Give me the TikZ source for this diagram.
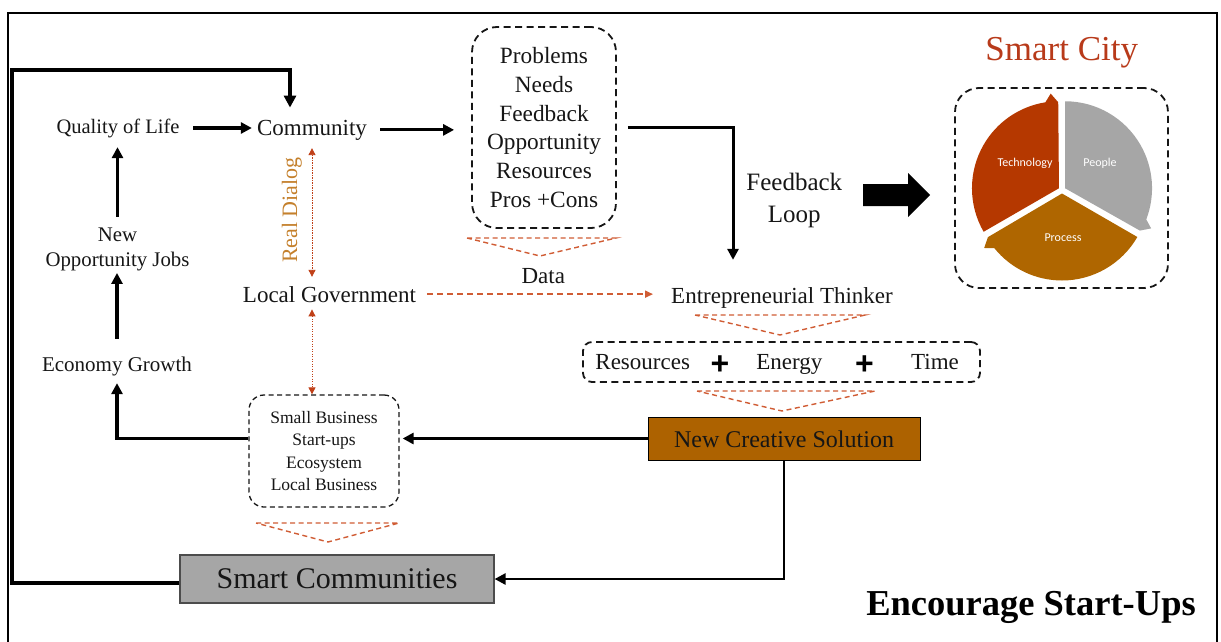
\documentclass[tikz,border=0pt]{standalone}
\usepackage{fontspec}
\setmainfont{Liberation Serif}
\newfontfamily\piefont{Carlito}
\newfontfamily\plusfont{Liberation Sans}
\usetikzlibrary{arrows.meta}

\definecolor{ink}{RGB}{22,22,22}
\definecolor{dashor}{RGB}{208,92,52}
\definecolor{dotred}{RGB}{192,64,24}
\definecolor{dialog}{RGB}{196,128,44}
\definecolor{tech}{RGB}{181,56,0}
\definecolor{ppl}{RGB}{166,166,166}
\definecolor{proc}{RGB}{175,102,0}
\definecolor{ncsfill}{RGB}{173,98,0}
\definecolor{scfill}{RGB}{166,166,166}
\definecolor{cityred}{RGB}{184,58,26}

\newcommand\fs[2]{\fontsize{#1}{#2}\selectfont}
% one third of the cycle: a wedge from #1 to #2 (clockwise) with an arrow barb at #2
\newcommand\cyclepart[3]{%
  \fill[#3] (0,0) -- (#1:87) arc[start angle=#1, end angle={#2+9}, radius=87]
    -- ({#2+5}:95) -- ({#2+0.5}:86) -- cycle;}

\begin{document}
\begin{tikzpicture}[x=1pt,y=-1pt,
  txt/.style={inner sep=0pt, anchor=base, text=ink},
  dbox/.style={draw=ink, line width=1.8pt, dash pattern=on 7pt off 4.5pt, inner sep=0pt, text=ink},
  sbox/.style={draw=ink, line width=1.3pt, dash pattern=on 5pt off 3.5pt, inner sep=0pt, text=ink},
  heavy/.style={draw=black, line width=3.2pt, -{Triangle[length=11pt,width=11pt]}},
  loopline/.style={draw=black, line width=3.6pt, -{Triangle[length=12pt,width=12pt]}},
  dasharrow/.style={draw=dashor, line width=1.6pt, dash pattern=on 6pt off 4pt, -{Triangle[length=8pt,width=7pt]}},
  dotarrow/.style={draw=dotred, line width=0.9pt, dash pattern=on 1.2pt off 1.3pt,
    {Triangle[length=7pt,width=7pt]}-{Triangle[length=7pt,width=7pt]}},
  tri/.style={draw=dashor, line width=1.4pt, dash pattern=on 5pt off 3.5pt},
  plus/.style={inner sep=0pt, anchor=base, font=\plusfont\bfseries\fs{32}{36}, text=black}
]
\useasboundingbox (0,0) rectangle (1221,642);

% outer frame
\draw[line width=1.5pt] (8,642) -- (8,13) -- (1217,13) -- (1217,642);

% left column
\node[txt, font=\fs{20.5}{24}] (qol) at (118,133) {Quality of Life};
\node[txt, font=\fs{20.8}{25}, align=center, anchor=center] (noj) at (117.5,249.7) {New\\Opportunity Jobs};
\node[txt, font=\fs{21}{25}] (eg) at (117,371) {Economy Growth};

% community and government
\node[txt, font=\fs{23}{28}] (com) at (312,135) {Community};
\node[txt, font=\fs{23}{28}] (lg) at (329.5,302) {Local Government};
\node[txt, font=\fs{22}{26}, text=dialog, rotate=90] (rd) at (297,210) {Real Dialog};

% problems box
\node[dbox, rounded corners=25pt, minimum width=144pt, minimum height=201pt,
      align=center, font=\fs{23.3}{28.8}] (box1) at (544,127.5)
      {Problems\\Needs\\Feedback\\Opportunity\\Resources\\Pros +Cons};
\node[txt, font=\fs{23}{28}] (data) at (543.3,283) {Data};

% feedback loop
\node[txt, font=\fs{25}{32}, align=center, anchor=center] (fbl) at (794.3,200.2) {Feedback\\Loop};
\coordinate (fbx) at (733,0);

% entrepreneur chain
\node[txt, font=\fs{23}{28}] (et) at (782,303) {Entrepreneurial Thinker};
\node[dbox, rounded corners=9pt, minimum width=397pt, minimum height=40pt] (rbox) at (781.5,362) {};
\node[txt, font=\fs{23}{28}] (res) at (642.7,369) {Resources};
\node[plus] (p1) at (720,374) {+};
\node[txt, font=\fs{23}{28}] (en) at (789.3,369) {Energy};
\node[plus] (p2) at (864.5,374) {+};
\node[txt, font=\fs{23}{28}] (tm) at (935,369) {Time};
\node[draw=black, line width=1pt, fill=ncsfill, minimum width=272pt, minimum height=43pt,
      inner sep=0pt] (ncs) at (784,438.5) {};
\node[txt, font=\fs{24}{28}] (ncst) at (784,447) {New Creative Solution};

% small business box
\node[sbox, rounded corners=15pt, minimum width=150pt, minimum height=112pt,
      align=center, font=\fs{17.5}{22.4}] (sb) at (324,451)
      {Small Business\\Start-ups\\Ecosystem\\Local Business};

% smart communities
\node[draw=black!70, line width=1.2pt, fill=scfill, minimum width=314pt, minimum height=48pt,
      inner sep=0pt] (sc) at (337,579) {};
\node[txt, font=\fs{30}{34}] (sct) at (337,588) {Smart Communities};

% title bottom right
\node[txt, font=\bfseries\fs{36.5}{40}, text=black] (enc) at (1031,615) {Encourage Start-Ups};

% dashed triangles
\draw[tri] (467,238) -- (616,238) -- (540,256) -- cycle;
\draw[tri] (695,315) -- (865,315) -- (780,335) -- cycle;
\draw[tri] (697,391) -- (875,391) -- (782,411) -- cycle;
\draw[tri] (256,523) -- (399,523) -- (328,542) -- cycle;

% connectors
\coordinate (lpL) at (12,70);
\coordinate (lpR) at (290,70);
\draw[loopline, shorten >=12pt] ([yshift=-4pt]sc.west) -| (lpL) -- (lpR) -- (lpR |- com.north);
\draw[heavy, shorten <=13.5pt, shorten >=5pt] (qol.east) -- (qol.east -| com.west);
\draw[heavy, shorten <=13pt, shorten >=17pt] (com.east) -- (com.east -| box1.west);
\draw[heavy, line width=3pt, shorten <=11pt, shorten >=27pt] (box1.east) -| (fbx |- et.north);
\draw[dasharrow, shorten <=11pt, shorten >=18pt] (lg.east) -- (lg.east -| et.west);
\draw[dotarrow, shorten <=8pt, shorten >=9pt] (com.south) -- (com.south |- lg.north);
\draw[dotarrow, shorten <=7pt] (com.south |- lg.south) -- (com.south |- sb.north);
\draw[heavy, shorten >=3pt] (ncs.west) -- (ncs.west -| sb.east);
\draw[heavy, shorten >=7.4pt] (sb.west |- ncs.west) -| (eg.south);
\draw[heavy, shorten <=17.7pt, shorten >=1.5pt] (eg.north) -- (eg.north |- noj.south);
\draw[heavy, shorten <=11pt, shorten >=9.5pt] (noj.north) -- (noj.north |- qol.south);
\draw[draw=black, line width=2.6pt, -{Triangle[length=11pt,width=11pt]}] (ncs.south) |- (sc.east);

% block arrow towards the smart city
\fill[black] (863,184) -- (908,184) -- (908,173) -- (930,195) -- (908,217) -- (908,206) -- (863,206) -- cycle;

% smart city
\node[txt, font=\fs{35}{40}, text=cityred] (city) at (1061.7,60) {Smart City};
\node[dbox, rounded corners=24pt, minimum width=213pt, minimum height=200pt] (citybox) at (1061.5,188) {};
\begin{scope}[shift={(1062,190)}]
  \begin{scope}[y=1pt]
    \begin{scope}[shift={(150:3.5)}]\cyclepart{210}{90}{tech}\end{scope}
    \begin{scope}[shift={(30:3.5)}]\cyclepart{90}{-30}{ppl}\end{scope}
    \begin{scope}[shift={(270:3.5)}]\cyclepart{330}{210}{proc}\end{scope}
  \end{scope}
\end{scope}
\node[font=\piefont\fs{12}{14}, text=white, inner sep=0pt] (ltech) at (1025,163) {Technology};
\node[font=\piefont\fs{12}{14}, text=white, inner sep=0pt] (lppl) at (1100,163) {People};
\node[font=\piefont\fs{12}{14}, text=white, inner sep=0pt] (lproc) at (1063,238) {Process};
\end{tikzpicture}
\end{document}
